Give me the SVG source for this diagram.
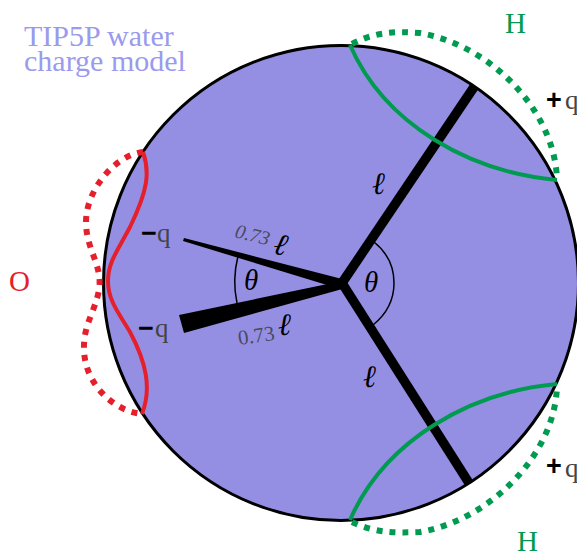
<svg xmlns="http://www.w3.org/2000/svg" width="577" height="552" viewBox="0 0 577 552">
<style>
text{font-family:"Liberation Serif","DejaVu Serif",serif}
.red{fill:none;stroke:#e5202c}
.grn{fill:none;stroke:#009a50}
.solid{stroke-width:4}
.dot{stroke-width:6;stroke-dasharray:6 7}
.bond{stroke:#000;stroke-width:9.5;fill:none}
.arc{fill:none;stroke:#000;stroke-width:1.5}
.q{fill:#444;font-size:27px}
.sign{fill:#000;font-size:27px;font-weight:bold;font-family:"Liberation Sans",sans-serif}
.l{fill:#000;font-size:31px;font-style:italic}
.n{fill:#4a4a5e;font-size:20px;font-style:italic}
.n2{fill:#4a4a5e;font-size:21px}
.th{fill:#000;font-size:29px;font-style:italic}
</style>
<rect width="577" height="552" fill="#fff"/>
<g id="title"><text x="24" y="46" font-size="30" fill="#9a9aee">TIP5P water</text><text x="24" y="71" font-size="30" fill="#9a9aee">charge model</text></g>
<g id="molecule">
<circle cx="341" cy="283" r="237.5" fill="#958fe4" stroke="#000" stroke-width="3"/>
</g>
<g id="connectors">
<path class="bond" d="M342 283L474 87"/>
<path class="bond" d="M342 283L469 483"/>
<polygon points="184,238 183,241 340,289 346,280" fill="#000"/>
<polygon points="179,315 184,333 346,288 342,281" fill="#000"/>
<path class="arc" d="M374 242Q394 258 394 283Q394 308 373 325"/>
<path class="arc" d="M238 256Q232 280 237 303"/>
</g>
<g id="oxygen">
<path class="red solid" d="M143 152C150 172 148 190 130 227C118 250 108 262 108 281C108 300 118 312 130 332C146 362 152 388 142 414"/>
<path class="red dot" d="M143 152C115 155 86 190 86 222C86 250 103 265 99 290C95 312 83 325 84 350C85 385 115 412 143 414"/>
<text x="9" y="291" font-size="29" fill="#e5202c">O</text>
</g>
<g id="hydrogen-top">
<path class="grn solid" d="M350 45C385 125 470 172 557 180"/>
<path class="grn dot" d="M352 44C375 32 395 31 420 33C490 45 555 110 557 180"/>
<text x="505" y="33" font-size="29" fill="#009a50">H</text>
</g>
<g id="hydrogen-bottom">
<path class="grn solid" d="M350 520C385 440 470 392 557 384"/>
<path class="grn dot" d="M352 522C375 533 395 533 420 532C490 520 555 455 557 386"/>
<text x="517" y="551" font-size="29" fill="#009a50">H</text>
</g>
<g id="labels">
<text class="sign" x="141" y="242">−</text><text class="q" x="157" y="242">q</text>
<text class="sign" x="138" y="337">−</text><text class="q" x="155" y="337">q</text>
<text class="sign" x="546" y="109">+</text><text class="q" x="565" y="109">q</text>
<text class="sign" x="546" y="475">+</text><text class="q" x="565" y="477">q</text>
<text class="n" transform="translate(234 237) rotate(14)">0.73</text>
<text class="l" transform="translate(272 253) rotate(14)">ℓ</text>
<text class="n2" transform="translate(239 345) rotate(-8)">0.73</text>
<text class="l" transform="translate(278 335)">ℓ</text>
<text class="l" x="372" y="194">ℓ</text>
<text class="l" x="363" y="387">ℓ</text>
<text class="th" x="244" y="290">θ</text>
<text class="th" x="364" y="292">θ</text>
</g>
</svg>
